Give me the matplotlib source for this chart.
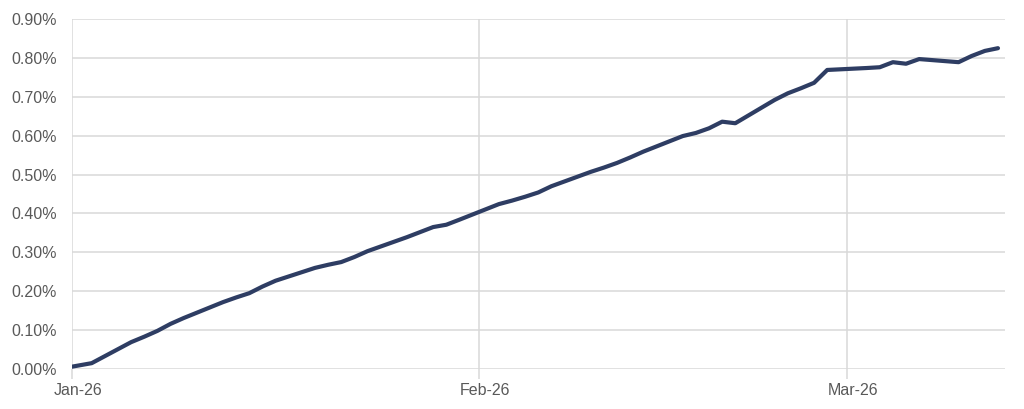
import pandas as pd
import matplotlib
matplotlib.use("Agg")
import matplotlib.pyplot as plt
import matplotlib.dates as mdates
from matplotlib.ticker import FuncFormatter
from matplotlib.transforms import ScaledTranslation

# daily values (%)
dates = ["2025-12-31", "2026-01-02",
         "2026-01-05", "2026-01-06", "2026-01-07", "2026-01-08", "2026-01-09",
         "2026-01-12", "2026-01-13", "2026-01-14", "2026-01-15", "2026-01-16",
         "2026-01-19", "2026-01-20", "2026-01-21", "2026-01-22", "2026-01-23",
         "2026-01-26", "2026-01-27", "2026-01-28", "2026-01-29", "2026-01-30",
         "2026-02-02", "2026-02-03", "2026-02-04", "2026-02-05", "2026-02-06",
         "2026-02-09", "2026-02-10", "2026-02-11", "2026-02-12", "2026-02-13",
         "2026-02-16", "2026-02-17", "2026-02-18", "2026-02-19", "2026-02-20",
         "2026-02-23", "2026-02-24", "2026-02-25", "2026-02-26", "2026-02-27",
         "2026-03-02", "2026-03-03", "2026-03-04", "2026-03-05", "2026-03-06",
         "2026-03-09", "2026-03-10", "2026-03-11", "2026-03-12"]
values = [0.003, 0.015,
          0.069, 0.083, 0.098, 0.116, 0.131,
          0.172, 0.184, 0.195, 0.212, 0.227,
          0.260, 0.268, 0.275, 0.288, 0.303,
          0.339, 0.352, 0.365, 0.371, 0.384,
          0.424, 0.433, 0.443, 0.454, 0.470,
          0.507, 0.518, 0.530, 0.544, 0.559,
          0.599, 0.607, 0.619, 0.636, 0.632,
          0.692, 0.709, 0.722, 0.736, 0.769,
          0.774, 0.776, 0.789, 0.785, 0.797,
          0.789, 0.805, 0.818, 0.825]
month_ticks = ["2026-01-01", "2026-02-01", "2026-03-01"]
y_ticks = [0.0, 0.1, 0.2, 0.3, 0.4, 0.5, 0.6, 0.7, 0.8, 0.9]

plt.rcParams["font.family"] = ["Liberation Sans", "DejaVu Sans"]

x = pd.to_datetime(dates) + pd.Timedelta(hours=12)

fig = plt.figure(figsize=(10.24, 4.09), dpi=100)
ax = fig.add_axes([0.0703, 0.0978, 0.9107, 0.8557])

ax.plot(x, values, color="#2e3d63", linewidth=3, solid_capstyle="round",
        solid_joinstyle="round", zorder=3)

ax.set_ylim(0, 0.9)
ax.set_yticks(y_ticks)
ax.yaxis.set_major_formatter(FuncFormatter(lambda v, p: f"{v:.2f}%"))
ax.set_xlim(pd.Timestamp("2026-01-01"), pd.Timestamp("2026-03-13"))
ax.set_xticks(pd.to_datetime(month_ticks))
ax.xaxis.set_major_formatter(mdates.DateFormatter("%b-%y"))

ax.grid(True, color="#d9d9d9", linewidth=1.1)
ax.set_axisbelow(True)
for s in ax.spines.values():
    s.set_visible(False)

ax.tick_params(axis="y", length=0, pad=11, labelsize=11.5, labelcolor="#595959")
ax.tick_params(axis="x", length=7, width=1.1, color="#d9d9d9", pad=3,
               labelsize=11.5, labelcolor="#595959")

shift = ScaledTranslation(6 / 100, 0, fig.dpi_scale_trans)
for lab in ax.get_xticklabels():
    lab.set_transform(lab.get_transform() + shift)

fig.savefig("out.png", dpi=100, facecolor="white")
